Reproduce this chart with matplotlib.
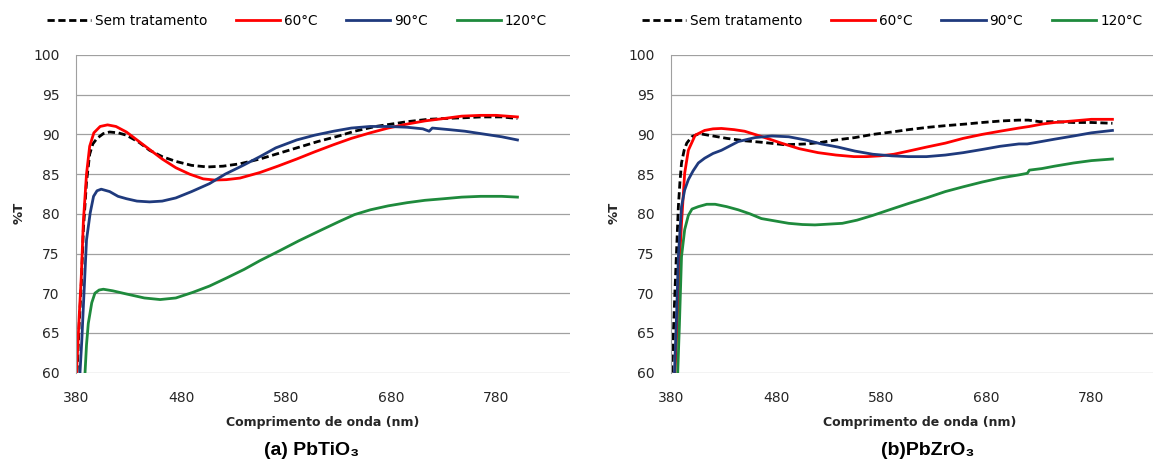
import matplotlib
matplotlib.use("Agg")
import matplotlib.pyplot as plt

# ---- data ----
# (a) PbTiO3
a_sem_x = [381, 383, 385, 387, 390, 393, 396, 400, 406, 412, 420, 428, 440, 450, 462, 475, 490, 505,
           520, 536, 555, 575, 590, 610, 630, 645, 665, 680, 695, 715, 730, 750, 765, 785, 800]
a_sem_y = [60, 66, 71, 78, 84, 87.5, 88.8, 89.5, 90.1, 90.3, 90.2, 89.9, 89.0, 88.0, 87.2, 86.6, 86.1, 85.9,
           86.0, 86.3, 86.9, 87.7, 88.3, 89.1, 89.8, 90.4, 91.0, 91.3, 91.6, 91.9, 92.0, 92.1, 92.2, 92.2, 92.0]

a_60_x = [380.5, 383, 385, 387, 390, 393, 397, 403, 410, 418, 428, 438, 450, 462, 475, 488, 501, 512,
          523, 536, 555, 572, 590, 607, 625, 642, 660, 677, 695, 712, 730, 747, 765, 780, 800]
a_60_y = [60, 67, 72, 79, 85, 88.5, 90.2, 91.0, 91.2, 91.0, 90.3, 89.3, 88.1, 86.9, 85.8, 85.0, 84.4, 84.25,
          84.3, 84.5, 85.2, 86.0, 86.9, 87.8, 88.7, 89.5, 90.2, 90.8, 91.3, 91.7, 92.0, 92.3, 92.4, 92.4, 92.2]

a_90_x = [383.8, 385.5, 387, 390, 393.5, 396.7, 400, 404, 412, 420, 428, 438, 450, 462, 475, 490, 507, 522,
          539, 555, 570, 590, 607, 625, 642, 660, 677, 695, 710, 716, 719, 735, 750, 765, 785, 800]
a_90_y = [60, 64, 68.3, 76.7, 80.1, 82.2, 82.9, 83.1, 82.8, 82.2, 81.9, 81.6, 81.5, 81.6, 82.0, 82.8, 83.8, 85.0,
          86.1, 87.2, 88.3, 89.3, 89.9, 90.4, 90.8, 91.0, 91.0, 90.9, 90.7, 90.4, 90.8, 90.6, 90.4, 90.1, 89.7, 89.3]

a_120_x = [388.6, 390, 391.7, 395, 398, 402, 406, 415, 428, 445, 460, 475, 491, 507, 523, 540, 555, 573,
           592, 614, 630, 645, 660, 677, 695, 712, 730, 747, 765, 785, 800]
a_120_y = [60, 63.5, 66.2, 68.8, 70.0, 70.4, 70.5, 70.3, 69.9, 69.4, 69.2, 69.4, 70.1, 70.9, 71.9, 73.0, 74.1, 75.3,
           76.6, 78.0, 79.0, 79.9, 80.5, 81.0, 81.4, 81.7, 81.9, 82.1, 82.2, 82.2, 82.1]

# (b) PbZrO3
b_sem_x = [380.6, 382, 383.8, 385.5, 387, 388.5, 390, 392.5, 395, 399.7, 405, 409, 420, 433, 450, 467, 488,
           509, 523, 537, 555, 572, 590, 606, 625, 641, 660, 676, 695, 711, 720, 731, 745, 763, 780, 800]
b_sem_y = [60, 64, 70.4, 76, 80.9, 84, 86.4, 88, 88.9, 89.7, 90.0, 90.05, 89.8, 89.5, 89.2, 89.0, 88.7,
           88.8, 89.0, 89.3, 89.6, 90.0, 90.3, 90.6, 90.9, 91.1, 91.3, 91.5, 91.7, 91.8, 91.8, 91.6, 91.6, 91.5, 91.5, 91.4]

b_60_x = [383.8, 385.5, 387, 388.5, 390, 393, 396.5, 403, 412, 420, 428, 440, 450, 467, 485, 502, 520, 537,
          554, 566, 579, 592, 606, 623, 641, 658, 676, 693, 711, 721, 733, 745, 763, 780, 800]
b_60_y = [60, 65, 70.4, 75, 78.8, 85.1, 88.0, 89.9, 90.5, 90.7, 90.75, 90.6, 90.4, 89.7, 88.9, 88.2, 87.7, 87.4,
          87.2, 87.2, 87.3, 87.5, 87.9, 88.4, 88.9, 89.5, 90.0, 90.4, 90.8, 91.0, 91.3, 91.5, 91.7, 91.9, 91.9]

b_90_x = [383.3, 385.5, 387, 390, 393, 396.5, 401, 406, 412, 420, 428, 444, 460, 476, 492, 508, 523, 539,
          555, 572, 590, 606, 623, 641, 658, 676, 693, 711, 719, 728, 745, 763, 780, 800]
b_90_y = [60, 68, 74.6, 80.9, 83.0, 84.3, 85.4, 86.4, 87.0, 87.6, 88.0, 89.1, 89.6, 89.8, 89.7, 89.3, 88.8, 88.4,
          87.9, 87.5, 87.3, 87.2, 87.2, 87.4, 87.7, 88.1, 88.5, 88.8, 88.8, 89.0, 89.4, 89.8, 90.2, 90.5]

b_120_x = [386.4, 388, 390, 393, 396.5, 400, 406, 414, 422, 433, 444, 455, 466, 479, 492, 505, 517, 530,
           543, 557, 572, 590, 606, 623, 641, 658, 676, 693, 711, 719, 721, 733, 745, 763, 780, 800]
b_120_y = [60, 66, 74.6, 78.0, 79.8, 80.6, 80.9, 81.2, 81.2, 80.9, 80.5, 80.0, 79.4, 79.1, 78.8, 78.65, 78.6, 78.7,
           78.8, 79.2, 79.8, 80.6, 81.3, 82.0, 82.8, 83.4, 84.0, 84.5, 84.9, 85.1, 85.5, 85.7, 86.0, 86.4, 86.7, 86.9]

labels = ["Sem tratamento", "60°C", "90°C", "120°C"]
colors = ["black", "#ff0000", "#1f3a7d", "#1e8a3c"]
xticks = [380, 480, 580, 680, 780]
yticks = [60, 65, 70, 75, 80, 85, 90, 95, 100]

W, H = 1153, 465
fig = plt.figure(figsize=(W / 100, H / 100), dpi=100)
plt.rcParams['font.family'] = ['DejaVu Sans']

panels = [
    (76, [(a_sem_x, a_sem_y), (a_60_x, a_60_y), (a_90_x, a_90_y), (a_120_x, a_120_y)],
     46.5, 19, 323, 312, "(a) PbTiO₃"),
    (671, [(b_sem_x, b_sem_y), (b_60_x, b_60_y), (b_90_x, b_90_y), (b_120_x, b_120_y)],
     641.6, 614.5, 920, 928, "(b)PbZrO₃"),
]

for left_px, series, leg_px, ylab_px, xlab_px, title_px, title in panels:
    ax = fig.add_axes([left_px / W, 1 - 372.6 / H, 494 / W, 317.6 / H])
    for (xs, ys), lab, col in zip(series, labels, colors):
        if lab == "Sem tratamento":
            ax.plot(xs, ys, color=col, lw=2.0, ls=(0, (2.6, 1.3)), label=lab)
        else:
            ax.plot(xs, ys, color=col, lw=2.0, label=lab)
    ax.set_xlim(380, 850)
    ax.set_ylim(60, 100)
    ax.set_xticks(xticks)
    ax.set_yticks(yticks)
    ax.grid(axis='y', color='#a0a0a0', lw=0.9)
    ax.set_axisbelow(True)
    for s in ['top', 'right', 'bottom']:
        ax.spines[s].set_visible(False)
    ax.spines['left'].set_color('#a0a0a0')
    ax.tick_params(length=0, labelsize=10, colors='#262626')
    ax.tick_params(axis='x', pad=13)
    ax.tick_params(axis='y', pad=12)

    ax.legend(loc='center left', bbox_to_anchor=(leg_px / W, 1 - 20.6 / H),
              bbox_transform=fig.transFigure, ncol=4, frameon=False, fontsize=9.8,
              handlelength=3.25, handletextpad=0.3, columnspacing=2.1,
              borderpad=0, borderaxespad=0)

    fig.text(ylab_px / W, 1 - 213 / H, "%T", rotation=90, ha='center', va='center',
             fontsize=9.5, fontweight='bold', color='#262626')
    fig.text(xlab_px / W, 1 - 422.7 / H, "Comprimento de onda (nm)", ha='center', va='center',
             fontsize=9, fontweight='bold', color='#262626')
    fig.text(title_px / W, 1 - 450 / H, title, ha='center', va='center', fontsize=14,
             fontweight='bold', family=['Liberation Sans', 'DejaVu Sans'], color='black')

fig.savefig("out.png", dpi=100)
